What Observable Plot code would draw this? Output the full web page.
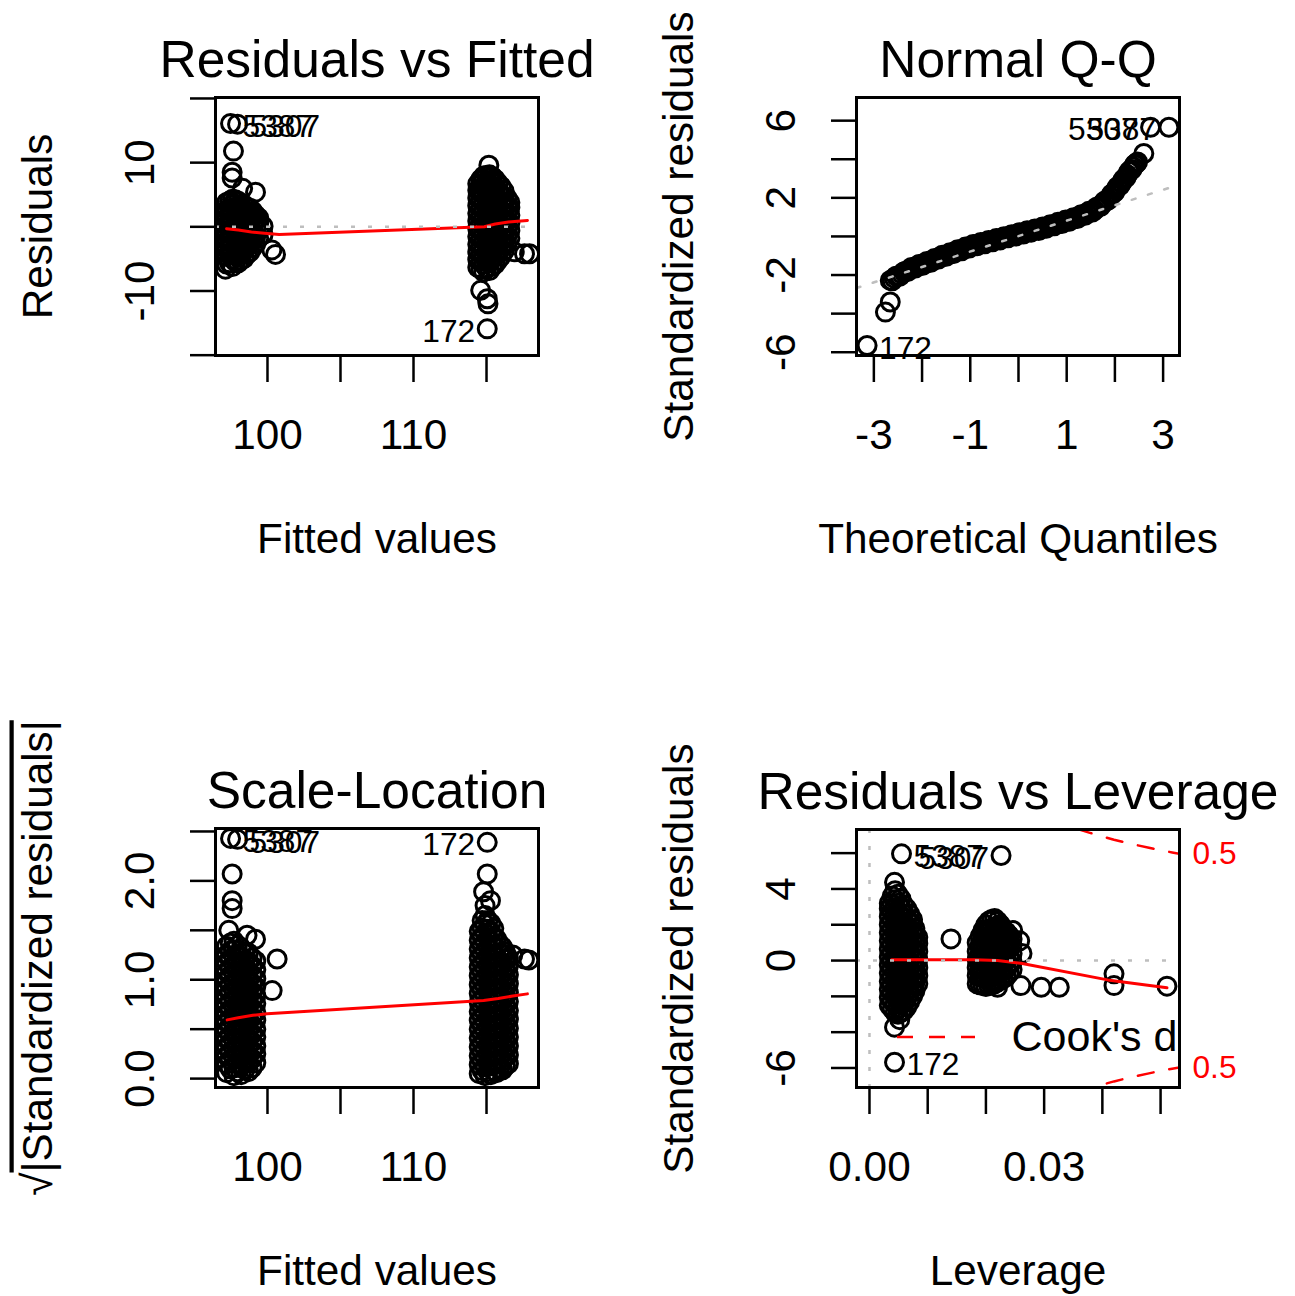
<!DOCTYPE html>
<html><head><meta charset="utf-8">
<script src="https://cdn.jsdelivr.net/npm/d3@7"></script>
<script src="https://cdn.jsdelivr.net/npm/@observablehq/plot@0.6"></script>
<style>
body{margin:0;background:#fff;}
#root{position:relative;width:1295px;height:1296px;overflow:hidden;background:#fff;}
</style></head><body><div id="root"></div>
<script>
// ---------- Panel 1: Residuals vs Fitted ----------
const rfLeftCols = [
  [97.2, [-5.8,-4.6,-3.4,-2.2,-1.0,0.2,1.4,2.6,3.8]],
  [97.4, [-5.6,-4.4,-3.2,-2.0,-0.8,0.4,1.6,2.8,4.0]],
  [97.6, [-6.2,-5.0,-3.8,-2.6,-1.4,-0.2,1.0,2.2,3.4,4.3]],
  [97.8, [-5.4,-4.2,-3.0,-1.8,-0.6,0.6,1.8,3.0,4.2]],
  [98.0, [-5.6,-4.4,-3.2,-2.0,-0.8,0.4,1.6,2.8,4.0]],
  [98.2, [-5.2,-4.0,-2.8,-1.6,-0.4,0.8,2.0,3.2]],
  [98.4, [-4.9,-3.7,-2.5,-1.3,-0.1,1.1,2.3,3.4]],
  [98.6, [-4.3,-3.1,-1.9,-0.7,0.5,1.7,2.9]],
  [98.8, [-3.9,-2.7,-1.5,-0.3,0.9,2.1,2.9]],
  [99.0, [-3.2,-2.0,-0.8,0.4,1.6,2.4]],
  [99.2, [-2.6,-1.4,-0.2,1.0,1.8]],
  [99.4, [-1.8,-0.6,0.6,1.4]],
  [99.7, [-1.2,0.1]]
];
const rfRightCols = [
  [114.4, [-6.3,-5.1,-3.9,-2.7,-1.5,-0.3,0.9,2.1,3.3,4.5,5.7,6.7]],
  [114.6, [-6.6,-5.4,-4.2,-3.0,-1.8,-0.6,0.6,1.8,3.0,4.2,5.4,6.6,7.4]],
  [114.8, [-7.0,-5.8,-4.6,-3.4,-2.2,-1.0,0.2,1.4,2.6,3.8,5.0,6.2,7.4,7.9]],
  [115.0, [-6.4,-5.2,-4.0,-2.8,-1.6,-0.4,0.8,2.0,3.2,4.4,5.6,6.8,8.0]],
  [115.2, [-6.8,-5.6,-4.4,-3.2,-2.0,-0.8,0.4,1.6,2.8,4.0,5.2,6.4,7.6,8.1]],
  [115.4, [-6.2,-5.0,-3.8,-2.6,-1.4,-0.2,1.0,2.2,3.4,4.6,5.8,7.0,7.8]],
  [115.6, [-5.8,-4.6,-3.4,-2.2,-1.0,0.2,1.4,2.6,3.8,5.0,6.2,7.4]],
  [115.8, [-5.2,-4.0,-2.8,-1.6,-0.4,0.8,2.0,3.2,4.4,5.6,6.8]],
  [116.0, [-4.6,-3.4,-2.2,-1.0,0.2,1.4,2.6,3.8,5.0,6.3]],
  [116.2, [-3.8,-2.6,-1.4,-0.2,1.0,2.2,3.4,4.6,5.6]],
  [116.4, [-2.7,-1.5,-0.3,0.9,2.1,3.3,4.5]],
  [116.6, [-1.8,-0.6,0.6,1.8,3.0,3.8]]
];
const rfSparse = [[97.47,16.1],[97.95,16.0],[97.67,11.8],[97.58,8.5],[97.58,7.6],[98.3,6.0],[99.18,5.4],
  [100.3,-3.6],[100.55,-4.3],[97.12,-6.6],[115.16,9.6],[114.6,-9.9],[115.05,-11.2],[115.1,-12.0],
  [115.05,-15.9],[116.9,-3.9],[117.6,-4.2],[117.95,-4.2]];
const rfLabels = [[97.47,16.1,"5387",4],[97.95,16.0,"5307",4],[115.05,-15.9,"172",2]];
const rfSmoothX = [97.2, 98.0, 98.9, 99.8, 100.8, 114.85, 115.6, 116.5, 117.8];
const rfSmoothY = [-0.3, -0.5, -0.8, -1.0, -1.2, 0.0, 0.45, 0.75, 1.0];

// ---------- Panel 2: Normal Q-Q ----------
const qqBand = [[-2.66,-2.28],[-2.58,-2.16],[-2.50,-2.05],[-2.42,-1.95],[-2.34,-1.80],[-2.26,-1.72],[-2.18,-1.62],
  [-2.10,-1.55],[-2.02,-1.47],[-1.94,-1.40],[-1.86,-1.32],[-1.78,-1.25],[-1.70,-1.16],[-1.62,-1.07],[-1.54,-1.00],
  [-1.46,-0.93],[-1.38,-0.86],[-1.30,-0.79],[-1.22,-0.72],[-1.14,-0.65],[-1.06,-0.58],[-0.98,-0.51],[-0.90,-0.45],
  [-0.82,-0.40],[-0.74,-0.35],[-0.66,-0.30],[-0.58,-0.25],[-0.50,-0.20],[-0.42,-0.15],[-0.34,-0.10],[-0.26,-0.04],
  [-0.18,0.01],[-0.10,0.06],[-0.02,0.11],[0.06,0.16],[0.14,0.21],[0.22,0.26],[0.30,0.30],[0.38,0.35],[0.46,0.40],
  [0.54,0.46],[0.62,0.52],[0.70,0.58],[0.78,0.64],[0.86,0.70],[0.94,0.76],[1.02,0.82],[1.10,0.88],[1.18,0.95],
  [1.26,1.03],[1.34,1.12],[1.42,1.20],[1.50,1.29],[1.58,1.37],[1.66,1.54],[1.74,1.69],[1.82,1.84],[1.90,2.05],
  [1.96,2.23],[2.02,2.42],[2.08,2.61],[2.14,2.79],[2.20,3.00],[2.26,3.20],[2.32,3.42],[2.38,3.60],[2.44,3.78]];
const qqBandMid = [[-2.62,-2.30],[-2.54,-2.06],[-2.46,-2.06],[-2.38,-1.84],[-2.30,-1.82],[-2.22,-1.61],[-2.14,-1.64],
  [-2.06,-1.45],[-1.98,-1.49],[-1.90,-1.30],[-1.82,-1.34],[-1.74,-1.14],[-1.66,-1.17],[-1.58,-0.97],[-1.50,-1.03],
  [-1.42,-0.84],[-1.34,-0.88],[-1.26,-0.69],[-1.18,-0.74],[-1.10,-0.55],[-1.02,-0.60],[-0.94,-0.42],[-0.86,-0.48],
  [-0.78,-0.31],[-0.70,-0.38],[-0.62,-0.21],[-0.54,-0.28],[-0.46,-0.11],[-0.38,-0.18],[-0.30,-0.01],[-0.22,-0.07],
  [-0.14,0.09],[-0.06,0.02],[0.02,0.19],[0.10,0.12],[0.18,0.29],[0.26,0.22],[0.34,0.38],[0.42,0.31],[0.50,0.49],
  [0.58,0.43],[0.66,0.61],[0.74,0.55],[0.82,0.73],[0.90,0.67],[0.98,0.85],[1.06,0.79],[1.14,0.97],[1.22,0.93],
  [1.30,1.13],[1.38,1.10],[1.46,1.30],[1.54,1.27],[1.62,1.51],[1.70,1.55],[1.78,1.82],[1.86,1.88],[1.93,2.19],
  [1.99,2.28],[2.05,2.56],[2.11,2.65],[2.17,2.94],[2.23,3.05],[2.29,3.36],[2.35,3.47],[2.41,3.73],[2.47,3.86]];
const qqSparse = [[-2.66,-3.40],[-2.76,-3.92],[-3.14,-5.65],[2.60,4.30],[2.74,5.66],[3.12,5.66]];
const qqLabels = [[-3.14,-5.65,"172",4],[2.74,5.66,"5307",2],[3.12,5.66,"5387",2]];
const qqLineX = [-3.36, 3.34];
const qqLineY = [-2.67, 2.69];

// ---------- Panel 3: Scale-Location ----------
const slLeftCols = [
  [97.2, [0.06,0.15,0.23,0.32,0.40,0.49,0.57,0.66,0.74,0.83,0.91,1.00,1.08,1.17,1.25,1.34]],
  [97.45, [0.10,0.19,0.27,0.36,0.44,0.53,0.61,0.70,0.78,0.87,0.95,1.04,1.12,1.21,1.29,1.37]],
  [97.7, [0.03,0.11,0.20,0.28,0.37,0.45,0.54,0.62,0.71,0.79,0.88,0.96,1.05,1.13,1.22,1.30,1.39]],
  [97.95, [0.07,0.16,0.24,0.33,0.41,0.50,0.58,0.67,0.75,0.84,0.92,1.01,1.09,1.18,1.26,1.35]],
  [98.2, [0.04,0.13,0.21,0.30,0.38,0.47,0.55,0.64,0.72,0.81,0.89,0.98,1.06,1.15,1.23,1.32]],
  [98.45, [0.09,0.17,0.26,0.34,0.43,0.51,0.60,0.68,0.77,0.85,0.94,1.02,1.11,1.19,1.28]],
  [98.7, [0.07,0.16,0.24,0.33,0.41,0.50,0.58,0.67,0.75,0.84,0.92,1.01,1.09,1.18,1.27]],
  [98.95, [0.11,0.20,0.28,0.37,0.45,0.54,0.62,0.71,0.79,0.88,0.96,1.05,1.14,1.22]],
  [99.2, [0.16,0.25,0.33,0.42,0.50,0.59,0.67,0.76,0.84,0.93,1.01,1.10,1.19]]
];
const slRightCols = [
  [114.5, [0.05,0.14,0.23,0.32,0.41,0.50,0.59,0.68,0.77,0.86,0.95,1.04,1.13,1.22,1.31,1.40,1.49]],
  [114.7, [0.08,0.17,0.26,0.35,0.44,0.53,0.62,0.71,0.80,0.89,0.98,1.07,1.16,1.25,1.34,1.43,1.52,1.60]],
  [114.9, [0.03,0.12,0.21,0.30,0.39,0.48,0.57,0.66,0.75,0.84,0.93,1.02,1.11,1.20,1.29,1.38,1.47,1.56,1.65]],
  [115.1, [0.07,0.16,0.25,0.34,0.43,0.52,0.61,0.70,0.79,0.88,0.97,1.06,1.15,1.24,1.33,1.42,1.51,1.60]],
  [115.3, [0.04,0.13,0.22,0.31,0.40,0.49,0.58,0.67,0.76,0.85,0.94,1.03,1.12,1.21,1.30,1.39,1.48,1.57]],
  [115.5, [0.08,0.17,0.26,0.35,0.44,0.53,0.62,0.71,0.80,0.89,0.98,1.07,1.16,1.25,1.34,1.43,1.52]],
  [115.7, [0.06,0.15,0.24,0.33,0.42,0.51,0.60,0.69,0.78,0.87,0.96,1.05,1.14,1.23,1.32,1.41]],
  [115.9, [0.10,0.19,0.28,0.37,0.46,0.55,0.64,0.73,0.82,0.91,1.00,1.09,1.18,1.27,1.36]],
  [116.1, [0.09,0.18,0.27,0.36,0.45,0.54,0.63,0.72,0.81,0.90,0.99,1.08,1.17,1.26,1.33]],
  [116.3, [0.13,0.22,0.31,0.40,0.49,0.58,0.67,0.76,0.85,0.94,1.03,1.12,1.21,1.28]],
  [116.5, [0.15,0.24,0.33,0.42,0.51,0.60,0.69,0.78,0.87,0.96,1.05,1.14,1.22]]
];
const slSparse = [[97.47,2.43],[97.95,2.42],[97.58,2.07],[97.58,1.80],[97.58,1.72],[97.35,1.50],[98.6,1.45],
  [99.18,1.41],[100.66,1.21],[100.32,0.89],[115.05,2.39],[115.05,2.07],[114.8,1.89],[115.27,1.80],[114.9,1.75],
  [116.8,1.25],[117.6,1.21],[117.9,1.20]];
const slLabels = [[97.47,2.43,"5387",4],[97.95,2.42,"5307",4],[115.05,2.39,"172",2]];
const slSmoothX = [97.24, 98.0, 99.0, 99.98, 114.8, 115.8, 116.8, 117.8];
const slSmoothY = [0.594, 0.615, 0.64, 0.655, 0.79, 0.81, 0.835, 0.857];

// ---------- Panel 4: Residuals vs Leverage ----------
const rlLeftCols = [
  [0.0034, [-2.5,-2.05,-1.6,-1.15,-0.7,-0.25,0.2,0.65,1.1,1.55,2.0,2.45,2.9,3.2]],
  [0.0039, [-2.7,-2.25,-1.8,-1.35,-0.9,-0.45,0.0,0.45,0.9,1.35,1.8,2.25,2.7,3.15,3.6]],
  [0.0044, [-2.9,-2.45,-2.0,-1.55,-1.1,-0.65,-0.2,0.25,0.7,1.15,1.6,2.05,2.5,2.95,3.4,3.9]],
  [0.0049, [-3.0,-2.65,-2.2,-1.75,-1.3,-0.85,-0.4,0.05,0.5,0.95,1.4,1.85,2.3,2.75,3.2,3.7]],
  [0.0054, [-2.9,-2.45,-2.0,-1.55,-1.1,-0.65,-0.2,0.25,0.7,1.15,1.6,2.05,2.5,2.95,3.45]],
  [0.0059, [-2.8,-2.35,-1.9,-1.45,-1.0,-0.55,-0.1,0.35,0.8,1.25,1.7,2.15,2.6,3.1]],
  [0.0064, [-2.6,-2.15,-1.7,-1.25,-0.8,-0.35,0.1,0.55,1.0,1.45,1.9,2.35,2.9]],
  [0.0069, [-2.3,-1.85,-1.4,-0.95,-0.5,-0.05,0.4,0.85,1.3,1.75,2.2,2.6]],
  [0.0074, [-2.0,-1.55,-1.1,-0.65,-0.2,0.25,0.7,1.15,1.6,2.05,2.3]],
  [0.0078, [-1.7,-1.25,-0.8,-0.35,0.1,0.55,1.0,1.45,1.8]],
  [0.0083, [-1.3,-0.85,-0.4,0.05,0.5,0.95,1.3]]
];
const rlRightCols = [
  [0.0185, [-1.3,-0.85,-0.4,0.05,0.5,1.0]],
  [0.0190, [-1.35,-0.9,-0.45,0.0,0.45,0.9,1.35]],
  [0.0195, [-1.4,-0.95,-0.5,-0.05,0.4,0.85,1.3,1.7]],
  [0.0200, [-1.45,-1.0,-0.55,-0.1,0.35,0.8,1.25,1.7,2.0]],
  [0.0205, [-1.4,-0.95,-0.5,-0.05,0.4,0.85,1.3,1.75,2.2]],
  [0.0210, [-1.35,-0.9,-0.45,0.0,0.45,0.9,1.35,1.8,2.3]],
  [0.0215, [-1.3,-0.85,-0.4,0.05,0.5,0.95,1.4,1.85,2.35]],
  [0.0220, [-1.2,-0.75,-0.3,0.15,0.6,1.05,1.5,1.95,2.2]],
  [0.0225, [-1.1,-0.65,-0.2,0.25,0.7,1.15,1.6,2.0]],
  [0.0230, [-1.0,-0.55,-0.1,0.35,0.8,1.25,1.7]],
  [0.0235, [-0.9,-0.45,0.0,0.45,0.9,1.35,1.6]],
  [0.0240, [-0.7,-0.25,0.2,0.65,1.1,1.4]],
  [0.0245, [-0.5,-0.05,0.4,0.85,1.2]]
];
const rlSparse = [[0.0055,5.96],[0.0226,5.87],[0.0043,4.37],[0.0043,-3.72],[0.0052,-3.3],[0.0043,-5.68],
  [0.0140,1.21],[0.0246,1.68],[0.0258,1.1],[0.0262,0.4],[0.0220,-1.49],[0.0260,-1.40],[0.0295,-1.49],
  [0.0326,-1.49],[0.0420,-0.74],[0.0420,-1.40],[0.0511,-1.43]];
const rlLabels = [[0.0055,5.96,"5387",4],[0.0226,5.87,"5307",2],[0.0043,-5.68,"172",4]];
const rlSmoothX = [0.0038, 0.010, 0.018, 0.022, 0.026, 0.0409, 0.0511];
const rlSmoothY = [0.04, 0.04, 0.04, 0.0, -0.15, -1.08, -1.52];
const cookH = [0.0355,0.038,0.040,0.042,0.044,0.046,0.048,0.050,0.052,0.054];
const cookR = [7.37,7.12,6.93,6.75,6.59,6.44,6.30,6.16,6.04,5.92];
const cookLabelY = [5.97, -5.97];
const cookLabel = "0.5";
const legendText = "Cook's distance";

// ---------- shared ----------
const FONT = "'Liberation Sans', Arial, Helvetica, sans-serif";
const root = document.getElementById("root");
const expand = cols => cols.flatMap(([x, ys]) => ys.map(y => [x, y]));
const dotted = {stroke: "#BEBEBE", strokeWidth: 2.5, strokeDasharray: "4,13", clip: true};
const ptStyle = {x: d => d[0], y: d => d[1], r: 9, stroke: "black", strokeWidth: 3, fill: "none", clip: true};
const labelMarks = labs => [
  Plot.text(labs.filter(d => d[3] === 4), {x: d => d[0], y: d => d[1], text: d => d[2], dx: 12, dy: 3, textAnchor: "start", lineAnchor: "middle", fontSize: 31.7}),
  Plot.text(labs.filter(d => d[3] === 2), {x: d => d[0], y: d => d[1], text: d => d[2], dx: -12, dy: 3, textAnchor: "end", lineAnchor: "middle", fontSize: 31.7})
];
const redLine = (xs, ys) => Plot.line(xs.map((x, i) => [x, ys[i]]), {x: d => d[0], y: d => d[1], stroke: "red", strokeWidth: 3, clip: true});

function makePanel(cfg) {
  const [left, top, width, height] = cfg.pos;
  const [mT, mR, mB, mL] = cfg.margins;
  const svg = Plot.plot({
    width, height, marginTop: mT, marginRight: mR, marginBottom: mB, marginLeft: mL,
    x: {domain: cfg.xDomain}, y: {domain: cfg.yDomain},
    style: {fontFamily: FONT, color: "black", background: "transparent", overflow: "visible"},
    marks: [
      ...cfg.marks,
      Plot.axisX(cfg.xTicks, {tickSize: 27, tickPadding: 66, lineAnchor: "bottom", fontSize: 42.3, strokeWidth: 2.5, label: null,
        tickFormat: d => cfg.xLabeled.includes(d) ? cfg.xFmt(d) : ""}),
      Plot.axisY(cfg.yTicks, {tickSize: 25, tickPadding: 37, tickRotate: -90, fontSize: 42.3, strokeWidth: 2.5, label: null,
        tickFormat: d => cfg.yLabeled.includes(d) ? cfg.yFmt(d) : ""}),
      Plot.frame({stroke: "black", strokeWidth: 3}),
      Plot.text([cfg.title], {text: d => d, frameAnchor: "top", dy: -21, lineAnchor: "bottom", fontSize: 51.5}),
      Plot.text([cfg.xTitle], {text: d => d, frameAnchor: "bottom", dy: 197, lineAnchor: "bottom", fontSize: 42.3}),
      Plot.text([cfg.yTitle], {text: d => d, frameAnchor: "left", dx: -164, rotate: -90, lineAnchor: "bottom", textAnchor: "middle", fontSize: 42.3})
    ]
  });
  svg.style.position = "absolute";
  svg.style.left = left + "px";
  svg.style.top = top + "px";
  root.appendChild(svg);
  return svg;
}

// Panel 1
makePanel({
  pos: [0, 0, 647, 648], margins: [97, 109, 293, 215],
  xDomain: [96.44, 118.56], yDomain: [-20.05, 20.15],
  xTicks: [100, 105, 110, 115], xLabeled: [100, 110], xFmt: d => String(d),
  yTicks: [-20, -10, 0, 10, 20], yLabeled: [-10, 10], yFmt: d => String(d),
  title: "Residuals vs Fitted", xTitle: "Fitted values", yTitle: "Residuals",
  marks: [
    Plot.dot(expand(rfLeftCols), ptStyle),
    Plot.dot(expand(rfRightCols), ptStyle),
    Plot.dot(rfSparse, ptStyle),
    redLine(rfSmoothX, rfSmoothY),
    Plot.ruleY([0], dotted),
    ...labelMarks(rfLabels)
  ]
});

// Panel 2
makePanel({
  pos: [647, 0, 648, 648], margins: [97, 116, 293, 209],
  xDomain: [-3.36, 3.34], yDomain: [-6.17, 7.2],
  xTicks: [-3, -2, -1, 0, 1, 2, 3], xLabeled: [-3, -1, 1, 3], xFmt: d => String(d),
  yTicks: [-6, -4, -2, 0, 2, 4, 6], yLabeled: [-6, -2, 2, 6], yFmt: d => String(d),
  title: "Normal Q-Q", xTitle: "Theoretical Quantiles", yTitle: "Standardized residuals",
  marks: [
    Plot.dot(qqBand, ptStyle),
    Plot.dot(qqBandMid, ptStyle),
    Plot.dot(qqSparse, ptStyle),
    Plot.line(qqLineX.map((x, i) => [x, qqLineY[i]]), {x: d => d[0], y: d => d[1], ...dotted}),
    ...labelMarks(qqLabels)
  ]
});

// Panel 3
const svg3 = makePanel({
  pos: [0, 648, 647, 648], margins: [180, 109, 209, 215],
  xDomain: [96.44, 118.56], yDomain: [-0.09, 2.53],
  xTicks: [100, 105, 110, 115], xLabeled: [100, 110], xFmt: d => String(d),
  yTicks: [0, 0.5, 1, 1.5, 2, 2.5], yLabeled: [0, 1, 2], yFmt: d => d.toFixed(1),
  title: "Scale-Location", xTitle: "Fitted values", yTitle: "√|Standardized residuals|",
  marks: [
    Plot.dot(expand(slLeftCols), ptStyle),
    Plot.dot(expand(slRightCols), ptStyle),
    Plot.dot(slSparse, ptStyle),
    redLine(slSmoothX, slSmoothY),
    ...labelMarks(slLabels)
  ]
});
d3.select(svg3).selectAll("text").filter(function () { return this.textContent === "√|Standardized residuals|"; })
  .each(function () {
    const t = d3.select(this);
    t.text("");
    t.append("tspan").text("√");
    t.append("tspan").style("text-decoration", "overline").text("|Standardized residuals|");
  });

// Panel 4
makePanel({
  pos: [647, 648, 648, 648], margins: [181, 116, 209, 209],
  xDomain: [-0.00223, 0.05325], yDomain: [-7.09, 7.32],
  xTicks: [0, 0.01, 0.02, 0.03, 0.04, 0.05], xLabeled: [0, 0.03], xFmt: d => d.toFixed(2),
  yTicks: [-6, -4, -2, 0, 2, 4, 6], yLabeled: [-6, 0, 4], yFmt: d => String(d),
  title: "Residuals vs Leverage", xTitle: "Leverage", yTitle: "Standardized residuals",
  marks: [
    Plot.dot(expand(rlLeftCols), ptStyle),
    Plot.dot(expand(rlRightCols), ptStyle),
    Plot.dot(rlSparse, ptStyle),
    redLine(rlSmoothX, rlSmoothY),
    Plot.ruleY([0], dotted),
    Plot.ruleX([0], dotted),
    Plot.line(cookH.map((h, i) => [h, cookR[i]]), {x: d => d[0], y: d => d[1], stroke: "red", strokeWidth: 2.5, strokeDasharray: "16,16", clip: true}),
    Plot.line(cookH.map((h, i) => [h, -cookR[i]]), {x: d => d[0], y: d => d[1], stroke: "red", strokeWidth: 2.5, strokeDasharray: "16,16", clip: true}),
    (index, scales, values, dims) => {
      const y = dims.height - dims.marginBottom - 50;
      return d3.create("svg:line")
        .attr("x1", dims.marginLeft + 41).attr("x2", dims.marginLeft + 119)
        .attr("y1", y).attr("y2", y)
        .attr("stroke", "red").attr("stroke-width", 2.5).attr("stroke-dasharray", "16,16").node();
    },
    Plot.text([legendText], {text: d => d, frameAnchor: "bottom-left", dx: 155, dy: -50, textAnchor: "start", lineAnchor: "middle", fontSize: 43, clip: true}),
    Plot.text(cookLabelY, {y: d => d, text: () => cookLabel, frameAnchor: "right", dx: 13, textAnchor: "start", lineAnchor: "middle", fill: "red", fontSize: 31.7}),
    ...labelMarks(rlLabels)
  ]
});
</script></body></html>
